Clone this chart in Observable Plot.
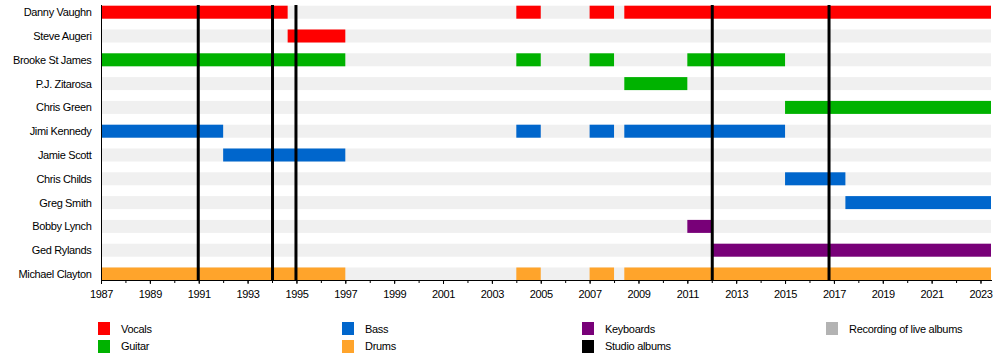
<!DOCTYPE html>
<html>
<head>
<meta charset="utf-8">
<script src="https://cdn.jsdelivr.net/npm/d3@7"></script>
<script src="https://cdn.jsdelivr.net/npm/@observablehq/plot@0.6"></script>
<style>
  body { margin: 0; background: #fff; font-family: "Liberation Sans", Arial, sans-serif; }
  #chart { position: relative; width: 1000px; }
  #chart svg text { letter-spacing: -0.35px; }
  #legend { position: relative; width: 1000px; height: 55px; font-size: 11px; color: #000; letter-spacing: -0.3px; }
  .item { position: absolute; display: flex; align-items: center; height: 13px; }
  .sw { width: 12px; height: 13px; margin-right: 11px; }
</style>
</head>
<body>
<div id="chart"></div>
<div id="legend"></div>
<script>
const members = ["Danny Vaughn", "Steve Augeri", "Brooke St James", "P.J. Zitarosa", "Chris Green",
  "Jimi Kennedy", "Jamie Scott", "Chris Childs", "Greg Smith", "Bobby Lynch", "Ged Rylands", "Michael Clayton"];

const roles = ["Vocals", "Guitar", "Bass", "Drums", "Keyboards", "Studio albums", "Recording of live albums"];
const roleColors = ["#ff0000", "#00b200", "#0066cc", "#ffa42b", "#780078", "#000000", "#b3b3b3"];

const startYear = 1987;
const endYear = 2023.43;

// [member, role, start, end]
const periods = [
  ["Danny Vaughn", "Vocals", 1987, 1994.64],
  ["Danny Vaughn", "Vocals", 2004, 2005],
  ["Danny Vaughn", "Vocals", 2007, 2008],
  ["Danny Vaughn", "Vocals", 2008.42, endYear],
  ["Steve Augeri", "Vocals", 1994.64, 1997],
  ["Brooke St James", "Guitar", 1987, 1997],
  ["Brooke St James", "Guitar", 2004, 2005],
  ["Brooke St James", "Guitar", 2007, 2008],
  ["Brooke St James", "Guitar", 2011, 2015],
  ["P.J. Zitarosa", "Guitar", 2008.42, 2011],
  ["Chris Green", "Guitar", 2015, endYear],
  ["Jimi Kennedy", "Bass", 1987, 1992],
  ["Jimi Kennedy", "Bass", 2004, 2005],
  ["Jimi Kennedy", "Bass", 2007, 2008],
  ["Jimi Kennedy", "Bass", 2008.42, 2015],
  ["Jamie Scott", "Bass", 1992, 1997],
  ["Chris Childs", "Bass", 2015, 2017.47],
  ["Greg Smith", "Bass", 2017.47, endYear],
  ["Bobby Lynch", "Keyboards", 2011, 2012],
  ["Ged Rylands", "Keyboards", 2012, endYear],
  ["Michael Clayton", "Drums", 1987, 1997],
  ["Michael Clayton", "Drums", 2004, 2005],
  ["Michael Clayton", "Drums", 2007, 2008],
  ["Michael Clayton", "Drums", 2008.42, endYear]
];

const studioAlbums = [1990.96, 1994.0, 1994.96, 2012.0, 2016.78];
const labelYears = d3.range(1987, 2024, 2);
const allYears = d3.range(1987, 2024, 1);

const rows = periods.map(([member, role, start, end]) => ({member, role, start, end}));
const lanes = members.map(m => ({member: m, start: startYear, end: endYear}));

const barInset = 5.4;

const chart = Plot.plot({
  width: 1000,
  height: 305,
  marginLeft: 101,
  marginRight: 9,
  marginTop: 5,
  marginBottom: 25,
  style: {fontFamily: "'Liberation Sans', Arial, sans-serif", fontSize: "11px", background: "#fff"},
  x: {domain: [startYear, endYear], label: null},
  y: {type: "band", domain: members, range: [0.3, 285.9], paddingInner: 0, paddingOuter: 0, round: false, label: null},
  color: {domain: roles, range: roleColors},
  marks: [
    Plot.barX(lanes, {y: "member", x1: "start", x2: "end", fill: "#f0f0f0", insetTop: barInset, insetBottom: barInset}),
    Plot.barX(rows, {y: "member", x1: "start", x2: "end", fill: "role", insetTop: barInset, insetBottom: barInset}),
    Plot.ruleX(studioAlbums, {stroke: "#000", strokeWidth: 3}),
    Plot.frame({anchor: "left", stroke: "#000"}),
    Plot.frame({anchor: "bottom", stroke: "#000"}),
    Plot.axisX({ticks: allYears, tickSize: 3, tickFormat: () => "", label: null}),
    Plot.axisX({ticks: labelYears, tickSize: 4, tickPadding: 6, tickFormat: d => String(d), label: null, fill: "#000"}),
    Plot.axisY({tickSize: 0, tickPadding: 10, label: null, fill: "#000"})
  ]
});
document.getElementById("chart").appendChild(chart);

// Legend
const legendCols = [98, 342, 582, 826];
const legendRowTops = [17, 34.5];
const legend = document.getElementById("legend");
const legendOrder = ["Vocals", "Guitar", "Bass", "Drums", "Keyboards", "Studio albums", "Recording of live albums"];
legendOrder.forEach((r, i) => {
  const col = Math.floor(i / 2), row = i % 2;
  const item = document.createElement("div");
  item.className = "item";
  item.style.left = legendCols[col] + "px";
  item.style.top = legendRowTops[row] + "px";
  const sw = document.createElement("div");
  sw.className = "sw";
  sw.style.background = roleColors[roles.indexOf(r)];
  const t = document.createElement("span");
  t.textContent = r;
  item.appendChild(sw);
  item.appendChild(t);
  legend.appendChild(item);
});
</script>
</body>
</html>
